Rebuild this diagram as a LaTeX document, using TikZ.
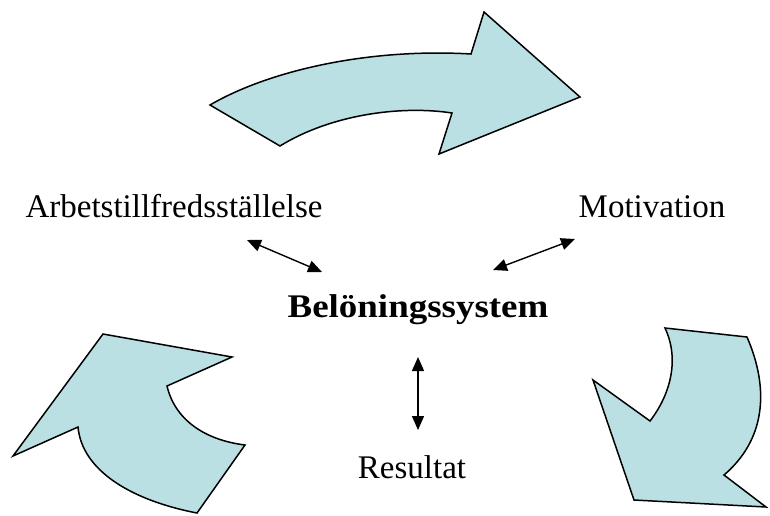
\documentclass[tikz,border=0pt]{standalone}
\usepackage{fontspec}
\setmainfont{Liberation Serif}
\usetikzlibrary{arrows.meta}
\definecolor{arrowfill}{RGB}{186,224,228}
\tikzset{
  bigarrow/.style={draw=black, line width=1.5pt, fill=arrowfill, line join=miter},
  label/.style={inner sep=0pt, anchor=base, font=\fontsize{33}{38}\selectfont},
  boldlabel/.style={label, font=\fontsize{33}{38}\selectfont\bfseries},
  link/.style={line width=1.4pt, {Triangle[length=14pt,width=12pt]}-{Triangle[length=14pt,width=12pt]}}
}
\begin{document}
\begin{tikzpicture}[x=1pt,y=-1pt]
\useasboundingbox (0,0) rectangle (770,515);

% top curved arrow
\draw[bigarrow] (210,105) .. controls (270,70) and (370,48) .. (471,54)
  -- (484,12) -- (580,97) -- (439,154) -- (452,113)
  .. controls (400,105) and (330,115) .. (280,146) -- cycle;

% lower-left arrow
\draw[bigarrow] (13,456) -- (103,334) -- (232,357) -- (167,386)
  .. controls (175,420) and (205,440) .. (245,445) -- (197,513)
  .. controls (130,500) and (82,470) .. (78,427) -- cycle;

% lower-right arrow
\draw[bigarrow] (665,328) -- (747,337)
  .. controls (770,390) and (765,440) .. (724,475) -- (766,507)
  -- (634,500) -- (593,380) -- (650,421)
  .. controls (670,395) and (680,360) .. (665,328) -- cycle;

% labels
\node[label] (arb) at (174,217) {Arbetstillfredsställelse};
\node[label] (mot) at (652,217) {Motivation};
\node[boldlabel] (bel) at (418,317) {\scalebox{1.12}[1]{Belöningssystem}};
\node[label] (res) at (412,478) {Resultat};

% two-headed links
\coordinate (a1) at (247,240);
\coordinate (a2) at (322,272);
\coordinate (m1) at (575,239);
\coordinate (m2) at (493,270);
\coordinate (r1) at (418,357);
\coordinate (r2) at (418,430);
\draw[link] (a1) -- (a2);
\draw[link] (m1) -- (m2);
\draw[link] (r1) -- (r2);
\end{tikzpicture}
\end{document}
